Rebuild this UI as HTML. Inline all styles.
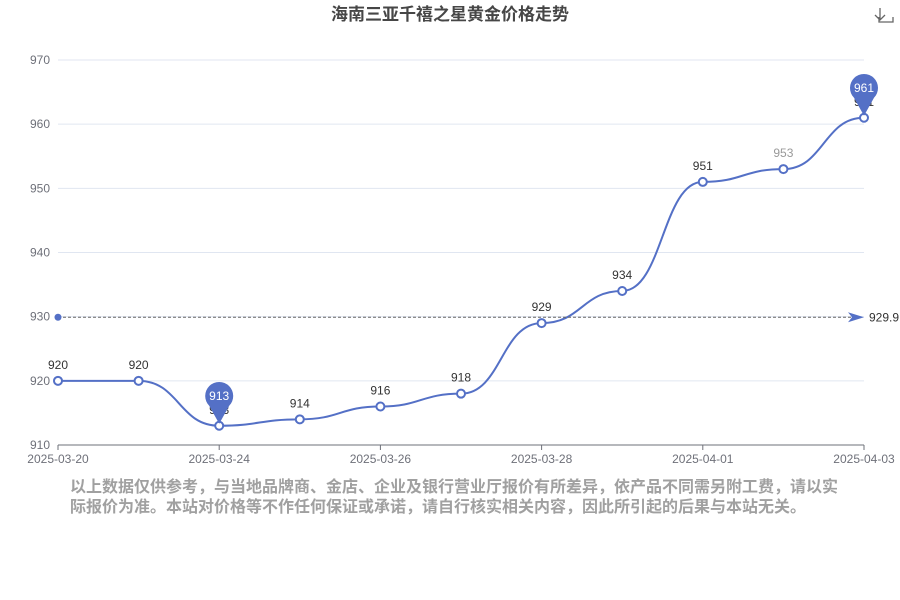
<!DOCTYPE html>
<html><head><meta charset="utf-8"><style>
body{margin:0;background:#fff;width:900px;height:600px;overflow:hidden;font-family:"Liberation Sans","Noto Sans CJK SC",sans-serif}
.note{position:absolute;left:70px;top:478px;width:770px;font-size:16px;line-height:20px;color:#a0a0a0;font-weight:bold}
</style></head><body>
<svg width="900" height="600" style="position:absolute;left:0;top:0">
<text x="450" y="20" text-anchor="middle" font-size="17" font-weight="bold" fill="#464646" font-family="Liberation Sans,Noto Sans CJK SC,sans-serif">海南三亚千禧之星黄金价格走势</text>
<g stroke="#666" fill="none" stroke-width="1.3"><path d="M879 9v12M874 16l5 5 5-5M879 22v0M879 22h0M878 23h14M878 18v5h14v-5" transform="translate(1,-1)"/></g>
<g id="grid"></g><g id="axis"></g><g id="series"></g><g id="marks"></g>
</svg>
<div class="note">以上数据仅供参考，与当地品牌商、金店、企业及银行营业厅报价有所差异，依产品不同需另附工费，请以实际报价为准。本站对价格等不作任何保证或承诺，请自行核实相关内容，因此所引起的后果与本站无关。</div>
<script>
const categories=["2025-03-20","2025-03-21","2025-03-24","2025-03-25","2025-03-26","2025-03-27","2025-03-28","2025-03-31","2025-04-01","2025-04-02","2025-04-03"];
const prices=[920,920,913,914,916,918,929,934,951,953,961];
const yTicks=[910,920,930,940,950,960,970];
const NS="http://www.w3.org/2000/svg";
const x0=58,x1=864,yb=445,yt=60,ymin=910,ymax=970;
const xs=i=>x0+(x1-x0)*i/(categories.length-1);
const ys=v=>yb-(v-ymin)/(ymax-ymin)*(yb-yt);
function mk(p,t,a){const e=document.createElementNS(NS,t);for(const k in a)e.setAttribute(k,a[k]);p.appendChild(e);return e;}
const grid=document.getElementById('grid'),axis=document.getElementById('axis'),ser=document.getElementById('series'),marks=document.getElementById('marks');
yTicks.forEach(v=>{
 if(v>ymin){const l=mk(grid,'line',{x1:x0,x2:x1,y1:ys(v),y2:ys(v),stroke:'#e0e6f1'});
 
 }
 const t=mk(axis,'text',{x:50,y:ys(v)+4,'text-anchor':'end','font-size':12,fill:'#6e7079'});t.textContent=v;
 
 
});
const ax=mk(axis,'line',{x1:x0,x2:x1,y1:yb,y2:yb,stroke:'#6e7079'});


categories.forEach((c,i)=>{
 if(i%2)return;
 const tk=mk(axis,'line',{x1:xs(i),x2:xs(i),y1:yb,y2:yb+5,stroke:'#6e7079'});
 
 
 const t=mk(axis,'text',{x:xs(i),y:yb+18,'text-anchor':'middle','font-size':12,fill:'#6e7079'});t.textContent=c;
 
 
});
let d='M'+xs(0)+' '+ys(prices[0]);
for(let i=1;i<prices.length;i++){const xa=xs(i-1),xb=xs(i),m=(xa+xb)/2;d+=` C${m} ${ys(prices[i-1])} ${m} ${ys(prices[i])} ${xb} ${ys(prices[i])}`;}
const line=mk(ser,'path',{d:d,fill:'none',stroke:'#5470c6','stroke-width':2});


const avg=prices.reduce((a,b)=>a+b,0)/prices.length;
const imax=prices.indexOf(Math.max(...prices)),imin=prices.indexOf(Math.min(...prices));
prices.forEach((v,i)=>{
 const c=mk(ser,'circle',{cx:xs(i),cy:ys(v),r:4,fill:'#fff',stroke:'#5470c6','stroke-width':2});
 
 
 const t=mk(ser,'text',{x:xs(i),y:ys(v)-12,'text-anchor':'middle','font-size':12,fill:i==9?'#999':'#333'});t.textContent=v;
 
 
});
const ay=ys(avg);
const al=mk(marks,'line',{x1:x0,x2:x1-10,y1:ay,y2:ay,stroke:'#5470c6','stroke-dasharray':'3,2'});


al.setAttribute('stroke','#666');
const ad=mk(marks,'circle',{cx:x0,cy:ay,r:3.5,fill:'#5470c6'});


const aa=mk(marks,'path',{d:`M${x1-16} ${ay-5}L${x1} ${ay}L${x1-16} ${ay+5}L${x1-12} ${ay}Z`,fill:'#5470c6'});


const at=mk(marks,'text',{x:x1+5,y:ay+4,'font-size':12,fill:'#333'});at.textContent=avg.toFixed(1);


function pin(i,name){
 const x=xs(i),y=ys(prices[i]),cy=y-30;
 const p=mk(marks,'path',{d:`M${x} ${y-2}L${x-10} ${cy+10}A14 14 0 1 1 ${x+10} ${cy+10}Z`,fill:'#5470c6'});
 
 
 const t=mk(marks,'text',{x:x,y:cy+4,'text-anchor':'middle','font-size':12,fill:'#fff'});t.textContent=prices[i];
 
 
}
pin(imax,'max-pin');pin(imin,'min-pin');
</script>
</body></html>
